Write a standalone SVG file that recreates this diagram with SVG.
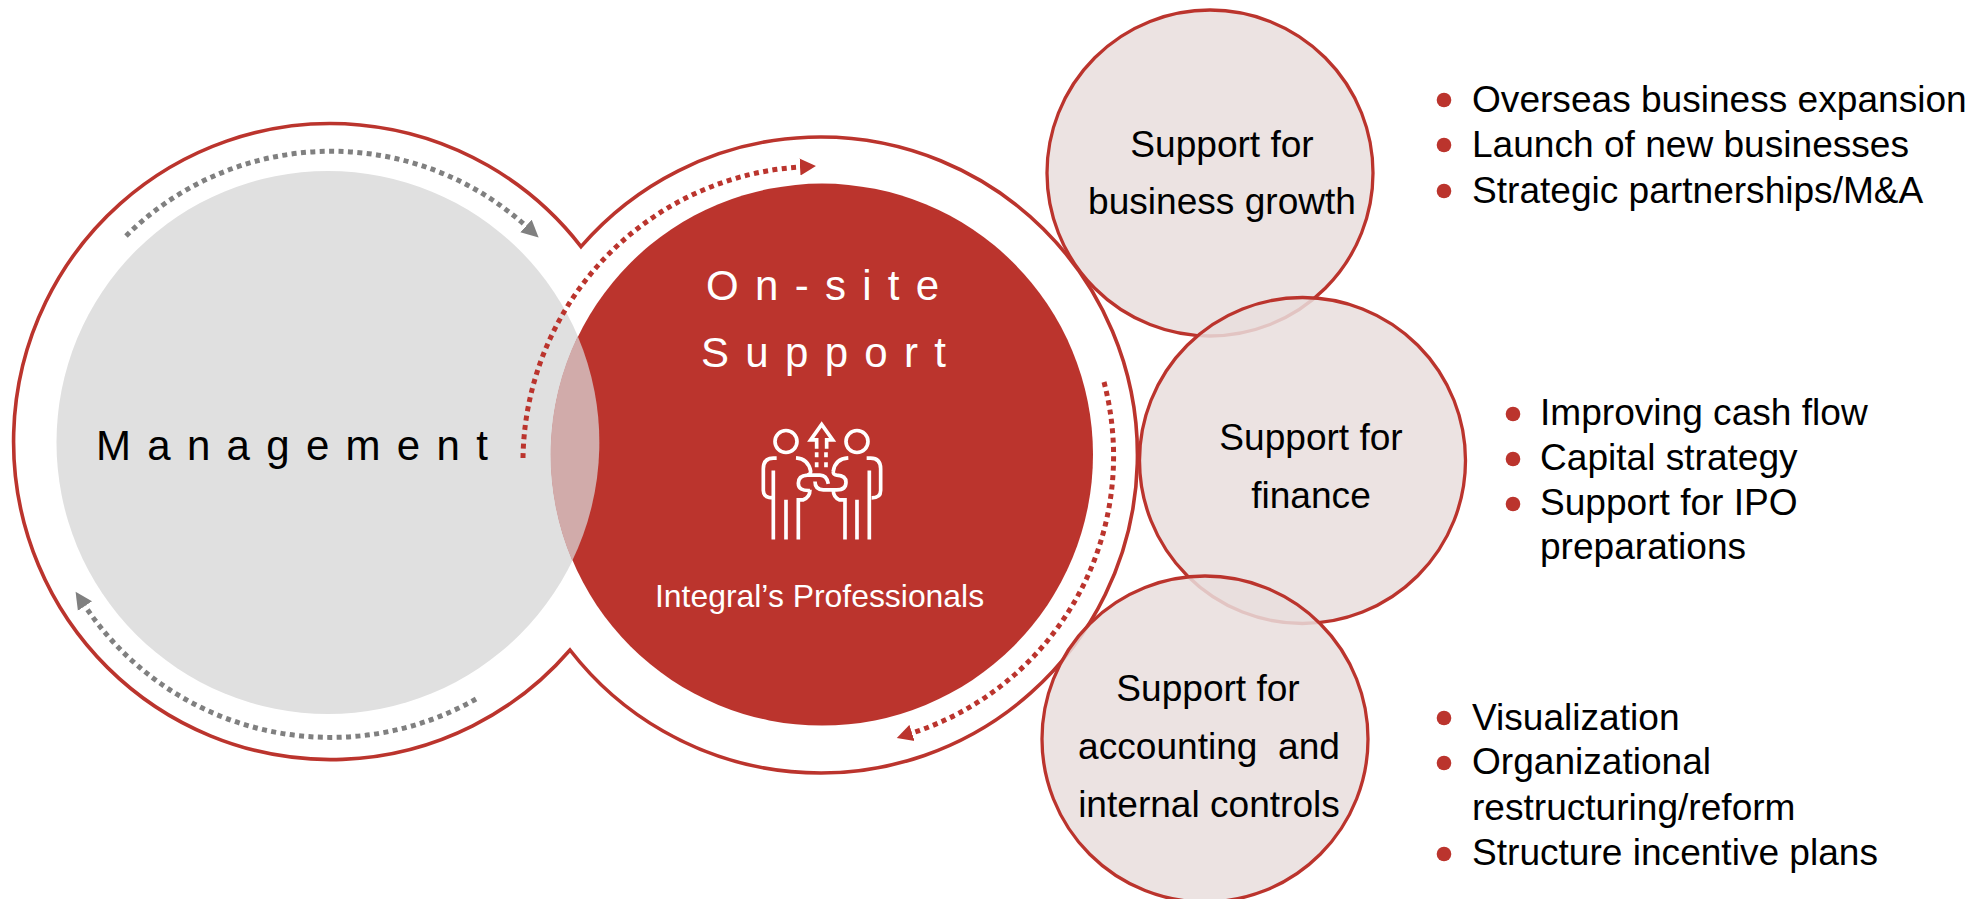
<svg xmlns="http://www.w3.org/2000/svg" width="1983" height="899" viewBox="0 0 1983 899">
<style>
text{font-family:"Liberation Sans",Arial,sans-serif;white-space:pre}
.t36{font-size:37.100px;fill:#000}
.c{text-anchor:middle}
.sp{font-size:42px;letter-spacing:16.300px}
.dot{fill:none;stroke-width:5;stroke-dasharray:5 4.400}
.r{stroke:#BB342D;marker-end:url(#ar)}
.g{stroke:#808080;marker-end:url(#ag)}
.sc{fill:#E9DEDD;fill-opacity:.85;stroke:#BB342D;stroke-width:3.300}
.b{fill:#BB342D}
.ic{fill:none;stroke:#fff;stroke-width:11;stroke-linecap:butt;stroke-linejoin:miter}
</style>
<defs>
<marker id="ar" markerUnits="userSpaceOnUse" markerWidth="18" markerHeight="18" refX="0" refY="9" orient="auto"><path d="M0 0.500L16 9L0 17.500Z" fill="#BB342D"/></marker>
<marker id="ag" markerUnits="userSpaceOnUse" markerWidth="18" markerHeight="18" refX="0" refY="9" orient="auto"><path d="M0 0.500L17 9L0 17.500Z" fill="#808080"/></marker>
</defs>
<rect width="1983" height="899" fill="#fff"/>
<g id="ring"><path d="M581 246.600A317 318 0 1 1 570 650A317 318 0 1 1 581 246.600Z" fill="none" stroke="#BB342D" stroke-width="3.600" stroke-miterlimit="10"/></g>
<g id="management">
<circle cx="328" cy="442.500" r="271.500" fill="#E0E0E0"/>
<text x="96" y="459.500" class="sp" fill="#000">Management</text>
</g>
<g id="onsite">
<circle cx="822" cy="454.600" r="271" fill="#BB342D"/>
<path id="overlap" d="M577.750 336.300A271.500 271.500 0 0 1 572.250 560.700A271 271 0 0 1 577.750 336.300Z" fill="#D1ABAA"/>
<text x="706" y="300" class="sp" fill="#fff">On-site</text>
<text x="701" y="367" class="sp" fill="#fff">Support</text>
<g id="icon" class="ic" transform="translate(720 400.500) scale(.3333)">
<circle cx="198" cy="123" r="33"/>
<circle cx="411" cy="123" r="33"/>
<path d="M290 145V118H272L305 72L338 118H320V145"/>
<path d="M290 155V170M318 155V170M290 185V200M318 185V200"/>
<path d="M170 173H160Q130 173 130 205V270Q130 292 158 292M160 210V417M198 298V417M235 417V298H250Q270 290 270 268"/>
<path d="M228 172Q265 175 272 212Q272 222 262 224Q235 226 235 248Q235 272 270 270"/>
<path d="M325 250Q320 224 300 224H262"/>
<path d="M285 243Q285 268 310 268H350Q378 268 378 245Q378 226 350 224Q338 222 340 212Q345 175 385 172"/>
<path d="M440 173H452Q482 173 482 205V270Q482 292 455 292M448 210V417M411 298V417M375 417V298H358Q340 290 340 270"/>
</g>
<text x="655" y="607" font-size="31.900" fill="#fff">Integral’s Professionals</text>
</g>
<g id="connectors">
<path class="dot g" d="M126 236A291 291 0 0 1 526 226"/>
<path class="dot g" d="M476 699A295 295 0 0 1 85 606"/>
<path class="dot r" d="M523 458A296 296 0 0 1 800 167"/>
<path class="dot r" d="M1104 382A291 291 0 0 1 912 733"/>
</g>
<g id="growth">
<circle class="sc" cx="1210" cy="173" r="163"/>
<text class="t36 c" x="1222" y="157">Support for</text>
<text class="t36 c" x="1222" y="214">business growth</text>
</g>
<g id="finance">
<circle class="sc" cx="1302.500" cy="460.500" r="163"/>
<text class="t36 c" x="1311" y="450">Support for</text>
<text class="t36 c" x="1311" y="508">finance</text>
</g>
<g id="accounting">
<circle class="sc" cx="1205" cy="739" r="163"/>
<text class="t36 c" x="1208" y="701">Support for</text>
<text class="t36 c" x="1209" y="759">accounting  and</text>
<text class="t36 c" x="1209" y="817">internal controls</text>
</g>
<g id="list-growth">
<circle class="b" cx="1444" cy="100" r="7.300"/><circle class="b" cx="1444" cy="145" r="7.300"/><circle class="b" cx="1444" cy="191" r="7.300"/>
<text class="t36" x="1472" y="112">Overseas business expansion</text>
<text class="t36" x="1472" y="157">Launch of new businesses</text>
<text class="t36" x="1472" y="203">Strategic partnerships/M&amp;A</text>
</g>
<g id="list-finance">
<circle class="b" cx="1513" cy="414" r="7.300"/><circle class="b" cx="1513" cy="459" r="7.300"/><circle class="b" cx="1513" cy="504" r="7.300"/>
<text class="t36" x="1540" y="425">Improving cash flow</text>
<text class="t36" x="1540" y="470">Capital strategy</text>
<text class="t36" x="1540" y="515">Support for IPO</text>
<text class="t36" x="1540" y="559">preparations</text>
</g>
<g id="list-accounting">
<circle class="b" cx="1444" cy="718" r="7.300"/><circle class="b" cx="1444" cy="763" r="7.300"/><circle class="b" cx="1444" cy="854" r="7.300"/>
<text class="t36" x="1472" y="730">Visualization</text>
<text class="t36" x="1472" y="774">Organizational</text>
<text class="t36" x="1472" y="820">restructuring/reform</text>
<text class="t36" x="1472" y="865">Structure incentive plans</text>
</g>
</svg>
